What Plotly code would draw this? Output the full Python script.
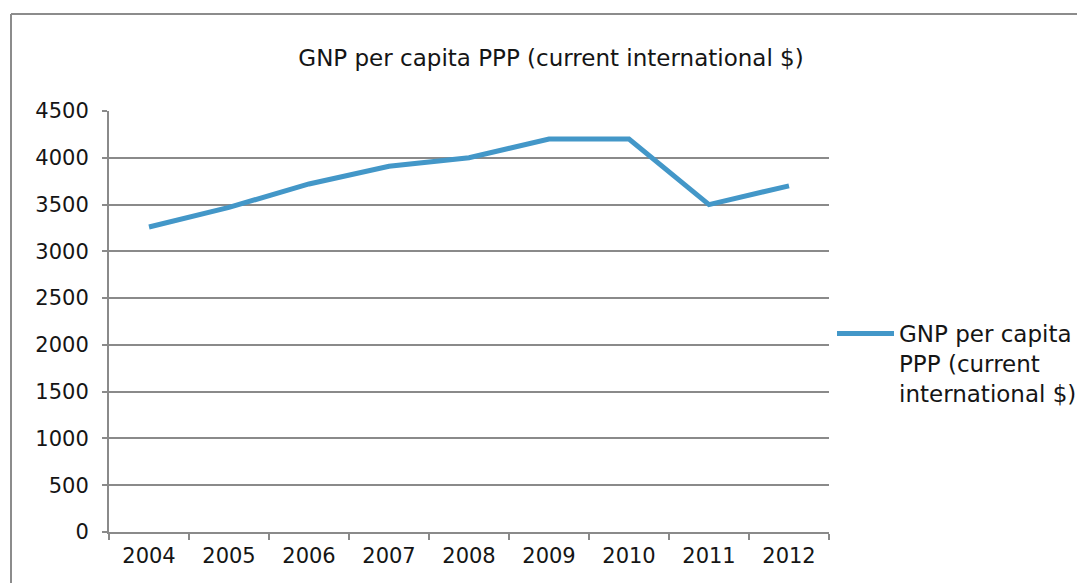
import plotly.graph_objects as go

years = ["2004", "2005", "2006", "2007", "2008", "2009", "2010", "2011", "2012"]
gnp_ppp = [3260, 3470, 3720, 3910, 4000, 4200, 4200, 3500, 3700]
series_name = "GNP per capita<br>PPP (current<br>international $)"
title_text = "GNP per capita PPP (current international $)"
y_ticks = [0, 500, 1000, 1500, 2000, 2500, 3000, 3500, 4000, 4500]

FONT = "DejaVu Sans, Liberation Sans, Arial, sans-serif"
GRID = "#8a8a8a"
BLUE = "#4397c8"
TXT = "#151515"

fig = go.Figure()
fig.add_trace(go.Scatter(
    x=years, y=gnp_ppp, mode="lines", name=series_name,
    line=dict(color=BLUE, width=5),
))

fig.update_layout(
    width=1077, height=583,
    margin=dict(l=109, r=248, t=111, b=51, autoexpand=False),
    paper_bgcolor="white", plot_bgcolor="white",
    font=dict(family=FONT, size=21, color=TXT),
    title=dict(text=title_text, x=551/1077, xanchor="center",
               y=1-58/583, yanchor="middle",
               font=dict(family=FONT, size=23, color=TXT)),
    showlegend=True,
    legend=dict(x=(832-109)/720, xanchor="left", y=(532-312)/421, yanchor="top",
                valign="top", itemwidth=57, bgcolor="rgba(0,0,0,0)",
                font=dict(family=FONT, size=23, color=TXT),
                tracegroupgap=0),
    xaxis=dict(type="category", range=[-0.5, 8.5], showgrid=False, showline=True,
               linecolor=GRID, linewidth=2, ticks="outside", tickson="boundaries",
               ticklen=6, tickwidth=2, tickcolor=GRID, ticklabelstandoff=4,
               tickfont=dict(size=21), zeroline=False),
    yaxis=dict(range=[0, 4500], tickvals=y_ticks, showgrid=True, gridcolor=GRID,
               gridwidth=2, showline=True, linecolor=GRID, linewidth=2,
               ticks="outside", ticklen=5, tickwidth=2, tickcolor=GRID,
               ticklabelstandoff=9, tickfont=dict(size=21), zeroline=False),
)

# outer chart frame (only top and left edges fall inside the picture)
fx0 = (11 - 109) / 720
fy1 = (532 - 14) / 421
fig.add_shape(type="line", xref="paper", yref="paper",
              x0=fx0, x1=1.5, y0=fy1, y1=fy1,
              line=dict(color="#8c8c8c", width=2), layer="below")
fig.add_shape(type="line", xref="paper", yref="paper",
              x0=fx0, x1=fx0, y0=-0.3, y1=fy1,
              line=dict(color="#8c8c8c", width=2), layer="below")

fig.write_html("out.html", config={"displayModeBar": False},
               post_script="document.body.style.margin='0';document.body.style.overflow='hidden';")
